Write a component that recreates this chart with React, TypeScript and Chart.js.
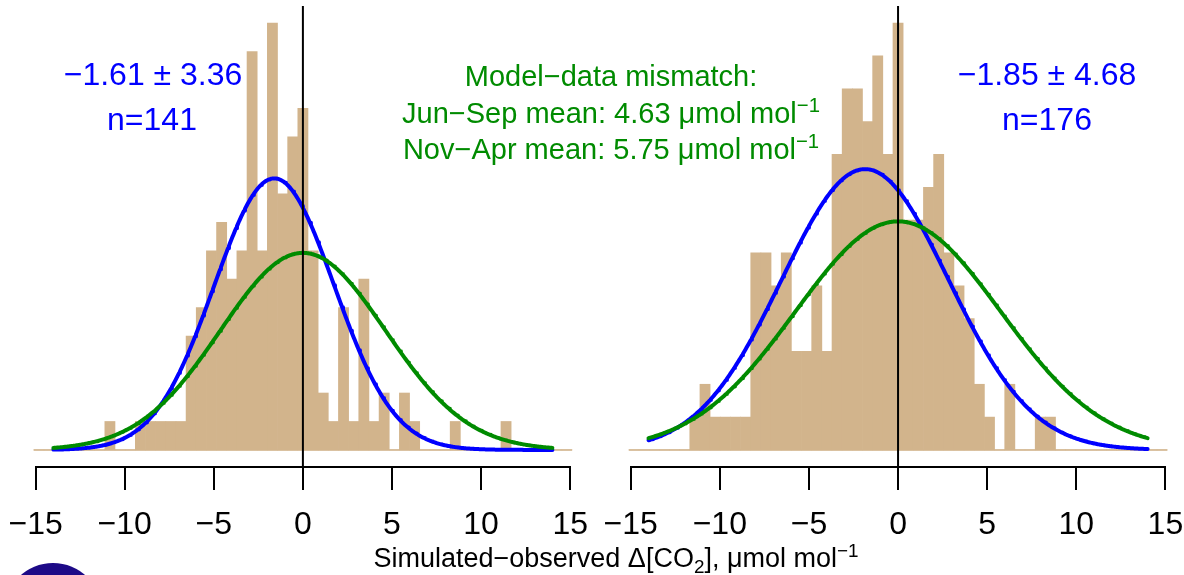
import React, { useEffect, useRef } from 'react';
import { Chart, registerables } from 'chart.js';

Chart.register(...registerables);

// ---- data ----
const BIN_WIDTH = 0.57; // histogram bin width (µmol/mol)
const BIN_INDEX_MIN = -26; // bin centres at k * BIN_WIDTH, k = -26 .. 26

// Left panel (Jun-Sep) counts per bin, k = -26 .. 26
const LEFT_COUNTS = [
  0, 0, 0, 0, 0, 0, 0, 1, 0, 0, 1, 1, 1, 1, 1, 4, 5, 7, 8, 6, 7, 14, 7, 15, 9, 11,
  12,
  7, 2, 1, 5, 1, 6, 1, 2, 0, 2, 1, 0, 0, 0, 1, 0, 0, 0, 0, 1, 0, 0, 0, 0, 0, 0,
];
// Right panel (Nov-Apr) counts per bin, k = -26 .. 26
const RIGHT_COUNTS = [
  0, 0, 0, 0, 0, 0, 1, 2, 1, 1, 1, 1, 6, 6, 5, 6, 3, 3, 5, 3, 9, 11, 11, 10, 12, 9,
  13,
  7, 7, 8, 9, 6, 5, 4, 2, 1, 0, 2, 0, 0, 1, 1, 0, 0, 0, 0, 0, 0, 0, 0, 0, 0, 0,
];

const LEFT_N = 141;
const LEFT_MEAN = -1.61;
const LEFT_SD = 3.36;
const LEFT_MISMATCH_SD = 4.63;

const RIGHT_N = 176;
const RIGHT_MEAN = -1.85;
const RIGHT_SD = 4.68;
const RIGHT_MISMATCH_SD = 5.75;

const CURVE_FROM = -14;
const CURVE_TO = 14;
const X_MIN = -15;
const X_MAX = 15;
const X_STEP = 5;

// ---- styles ----
const TAN = '#D2B48C';
const BLUE = '#0000FF';
const GREEN = '#008B00';
const FONT = "'Liberation Sans', Arial, Helvetica, sans-serif";

const fmt = (v: number) => String(v).replace('-', '\u2212');

function pdf(x: number, m: number, s: number) {
  const z = (x - m) / s;
  return Math.exp(-0.5 * z * z) / (s * Math.sqrt(2 * Math.PI));
}

function buildConfig(
  counts: number[],
  n: number,
  mean: number,
  sd: number,
  misSd: number,
  padding: { left: number; right: number; top: number; bottom: number }
): any {
  const top = Math.max(...counts);
  const yMin = -0.04 * top;
  const yMax = 1.04 * top;
  const bars = counts.map((c, i) => ({ x: (BIN_INDEX_MIN + i) * BIN_WIDTH, y: c }));
  const first = BIN_INDEX_MIN * BIN_WIDTH - BIN_WIDTH / 2;
  const last = (BIN_INDEX_MIN + counts.length - 1) * BIN_WIDTH + BIN_WIDTH / 2;
  const k = n * BIN_WIDTH;
  const xs: number[] = [];
  for (let i = 0; i <= 560; i++) xs.push(CURVE_FROM + ((CURVE_TO - CURVE_FROM) * i) / 560);
  const blue = xs.map((x) => ({ x, y: k * pdf(x, mean, sd) }));
  const green = xs.map((x) => ({ x, y: k * pdf(x, 0, misSd) }));
  const lineBase = { pointRadius: 0, clip: false as any, tension: 0, borderCapStyle: 'round', borderJoinStyle: 'round' };
  return {
    type: 'bar',
    data: {
      datasets: [
        { type: 'line', data: [{ x: 0, y: yMin }, { x: 0, y: yMax }], borderColor: '#000', borderWidth: 2, ...lineBase, borderCapStyle: 'butt' },
        { type: 'line', data: green, borderColor: GREEN, borderWidth: 4, ...lineBase },
        { type: 'line', data: blue, borderColor: BLUE, borderWidth: 4, ...lineBase },
        { type: 'line', data: [{ x: first, y: 0 }, { x: last, y: 0 }], borderColor: TAN, borderWidth: 1.5, ...lineBase, borderCapStyle: 'butt' },
        { type: 'bar', data: bars, backgroundColor: TAN, borderWidth: 0, barPercentage: 1, categoryPercentage: 1, clip: false },
      ],
    },
    options: {
      animation: false,
      responsive: false,
      maintainAspectRatio: false,
      events: [],
      layout: { padding },
      plugins: { legend: { display: false }, tooltip: { enabled: false }, title: { display: false } },
      scales: {
        x: {
          type: 'linear',
          min: X_MIN,
          max: X_MAX,
          offset: false,
          ticks: {
            stepSize: X_STEP,
            autoSkip: false,
            maxRotation: 0,
            padding: 0,
            color: '#000',
            font: { family: FONT, size: 32, lineHeight: 2.2 },
            callback: (v: number) => fmt(v),
          },
          grid: { drawOnChartArea: false, drawTicks: true, tickLength: 23, color: '#000', lineWidth: 2, offset: false },
          border: { display: true, color: '#000', width: 2 },
          afterFit: (s: any) => {
            s.height = 80;
          },
        },
        y: { type: 'linear', display: false, min: yMin, max: yMax },
      },
    },
  };
}

const Label: React.FC<{ x: number; baseline: number; size: number; color: string; children: React.ReactNode }> = ({
  x,
  baseline,
  size,
  color,
  children,
}) => (
  <div
    style={{
      position: 'absolute',
      left: x,
      top: baseline - 0.8465 * size,
      transform: 'translateX(-50%)',
      fontSize: size,
      lineHeight: `${size}px`,
      whiteSpace: 'nowrap',
      color,
      fontFamily: FONT,
    }}
  >
    {children}
  </div>
);

const Sup: React.FC<{ children: React.ReactNode }> = ({ children }) => (
  <span style={{ fontSize: '0.7em', position: 'relative', top: '-0.55em' }}>{children}</span>
);
const Sub: React.FC<{ children: React.ReactNode }> = ({ children }) => (
  <span style={{ fontSize: '0.7em', position: 'relative', top: '0.3em' }}>{children}</span>
);

export default function App() {
  const leftRef = useRef<HTMLCanvasElement>(null);
  const rightRef = useRef<HTMLCanvasElement>(null);

  useEffect(() => {
    const charts: Chart[] = [];
    if (leftRef.current) {
      charts.push(
        new Chart(
          leftRef.current,
          buildConfig(LEFT_COUNTS, LEFT_N, LEFT_MEAN, LEFT_SD, LEFT_MISMATCH_SD, { left: 35.6, right: 29.8, top: 6, bottom: 28 })
        )
      );
    }
    if (rightRef.current) {
      charts.push(
        new Chart(
          rightRef.current,
          buildConfig(RIGHT_COUNTS, RIGHT_N, RIGHT_MEAN, RIGHT_SD, RIGHT_MISMATCH_SD, { left: 40.7, right: 64.6, top: 6, bottom: 28 })
        )
      );
    }
    return () => charts.forEach((c) => c.destroy());
  }, []);

  return (
    <div
      style={{
        position: 'fixed',
        left: 0,
        top: 0,
        width: 1184,
        height: 575,
        overflow: 'hidden',
        background: '#fff',
      }}
    >
      <canvas ref={leftRef} width={600} height={575} style={{ position: 'absolute', left: 0, top: 0 }} />
      <canvas ref={rightRef} width={640} height={575} style={{ position: 'absolute', left: 590, top: 0 }} />

      <Label x={153} baseline={85} size={32} color={BLUE}>
        {'\u22121.61 \u00B1 3.36'}
      </Label>
      <Label x={152} baseline={130} size={32} color={BLUE}>
        n=141
      </Label>
      <Label x={1047} baseline={85} size={32} color={BLUE}>
        {'\u22121.85 \u00B1 4.68'}
      </Label>
      <Label x={1047} baseline={130} size={32} color={BLUE}>
        n=176
      </Label>

      <Label x={611} baseline={86.7} size={29} color={GREEN}>
        {'Model\u2212data mismatch:'}
      </Label>
      <Label x={611} baseline={123.3} size={29} color={GREEN}>
        {'Jun\u2212Sep mean: 4.63 \u03BCmol mol'}
        <Sup>{'\u22121'}</Sup>
      </Label>
      <Label x={611} baseline={160} size={29} color={GREEN}>
        {'Nov\u2212Apr mean: 5.75 \u03BCmol mol'}
        <Sup>{'\u22121'}</Sup>
      </Label>

      <Label x={616} baseline={568} size={27} color="#000">
        {'Simulated\u2212observed \u0394[CO'}
        <Sub>2</Sub>
        {'], \u03BCmol mol'}
        <Sup>{'\u22121'}</Sup>
      </Label>

      <div
        style={{
          position: 'absolute',
          left: 3.5,
          top: 562.7,
          width: 98,
          height: 98,
          borderRadius: '50%',
          background: '#1d0a87',
        }}
      />
    </div>
  );
}
